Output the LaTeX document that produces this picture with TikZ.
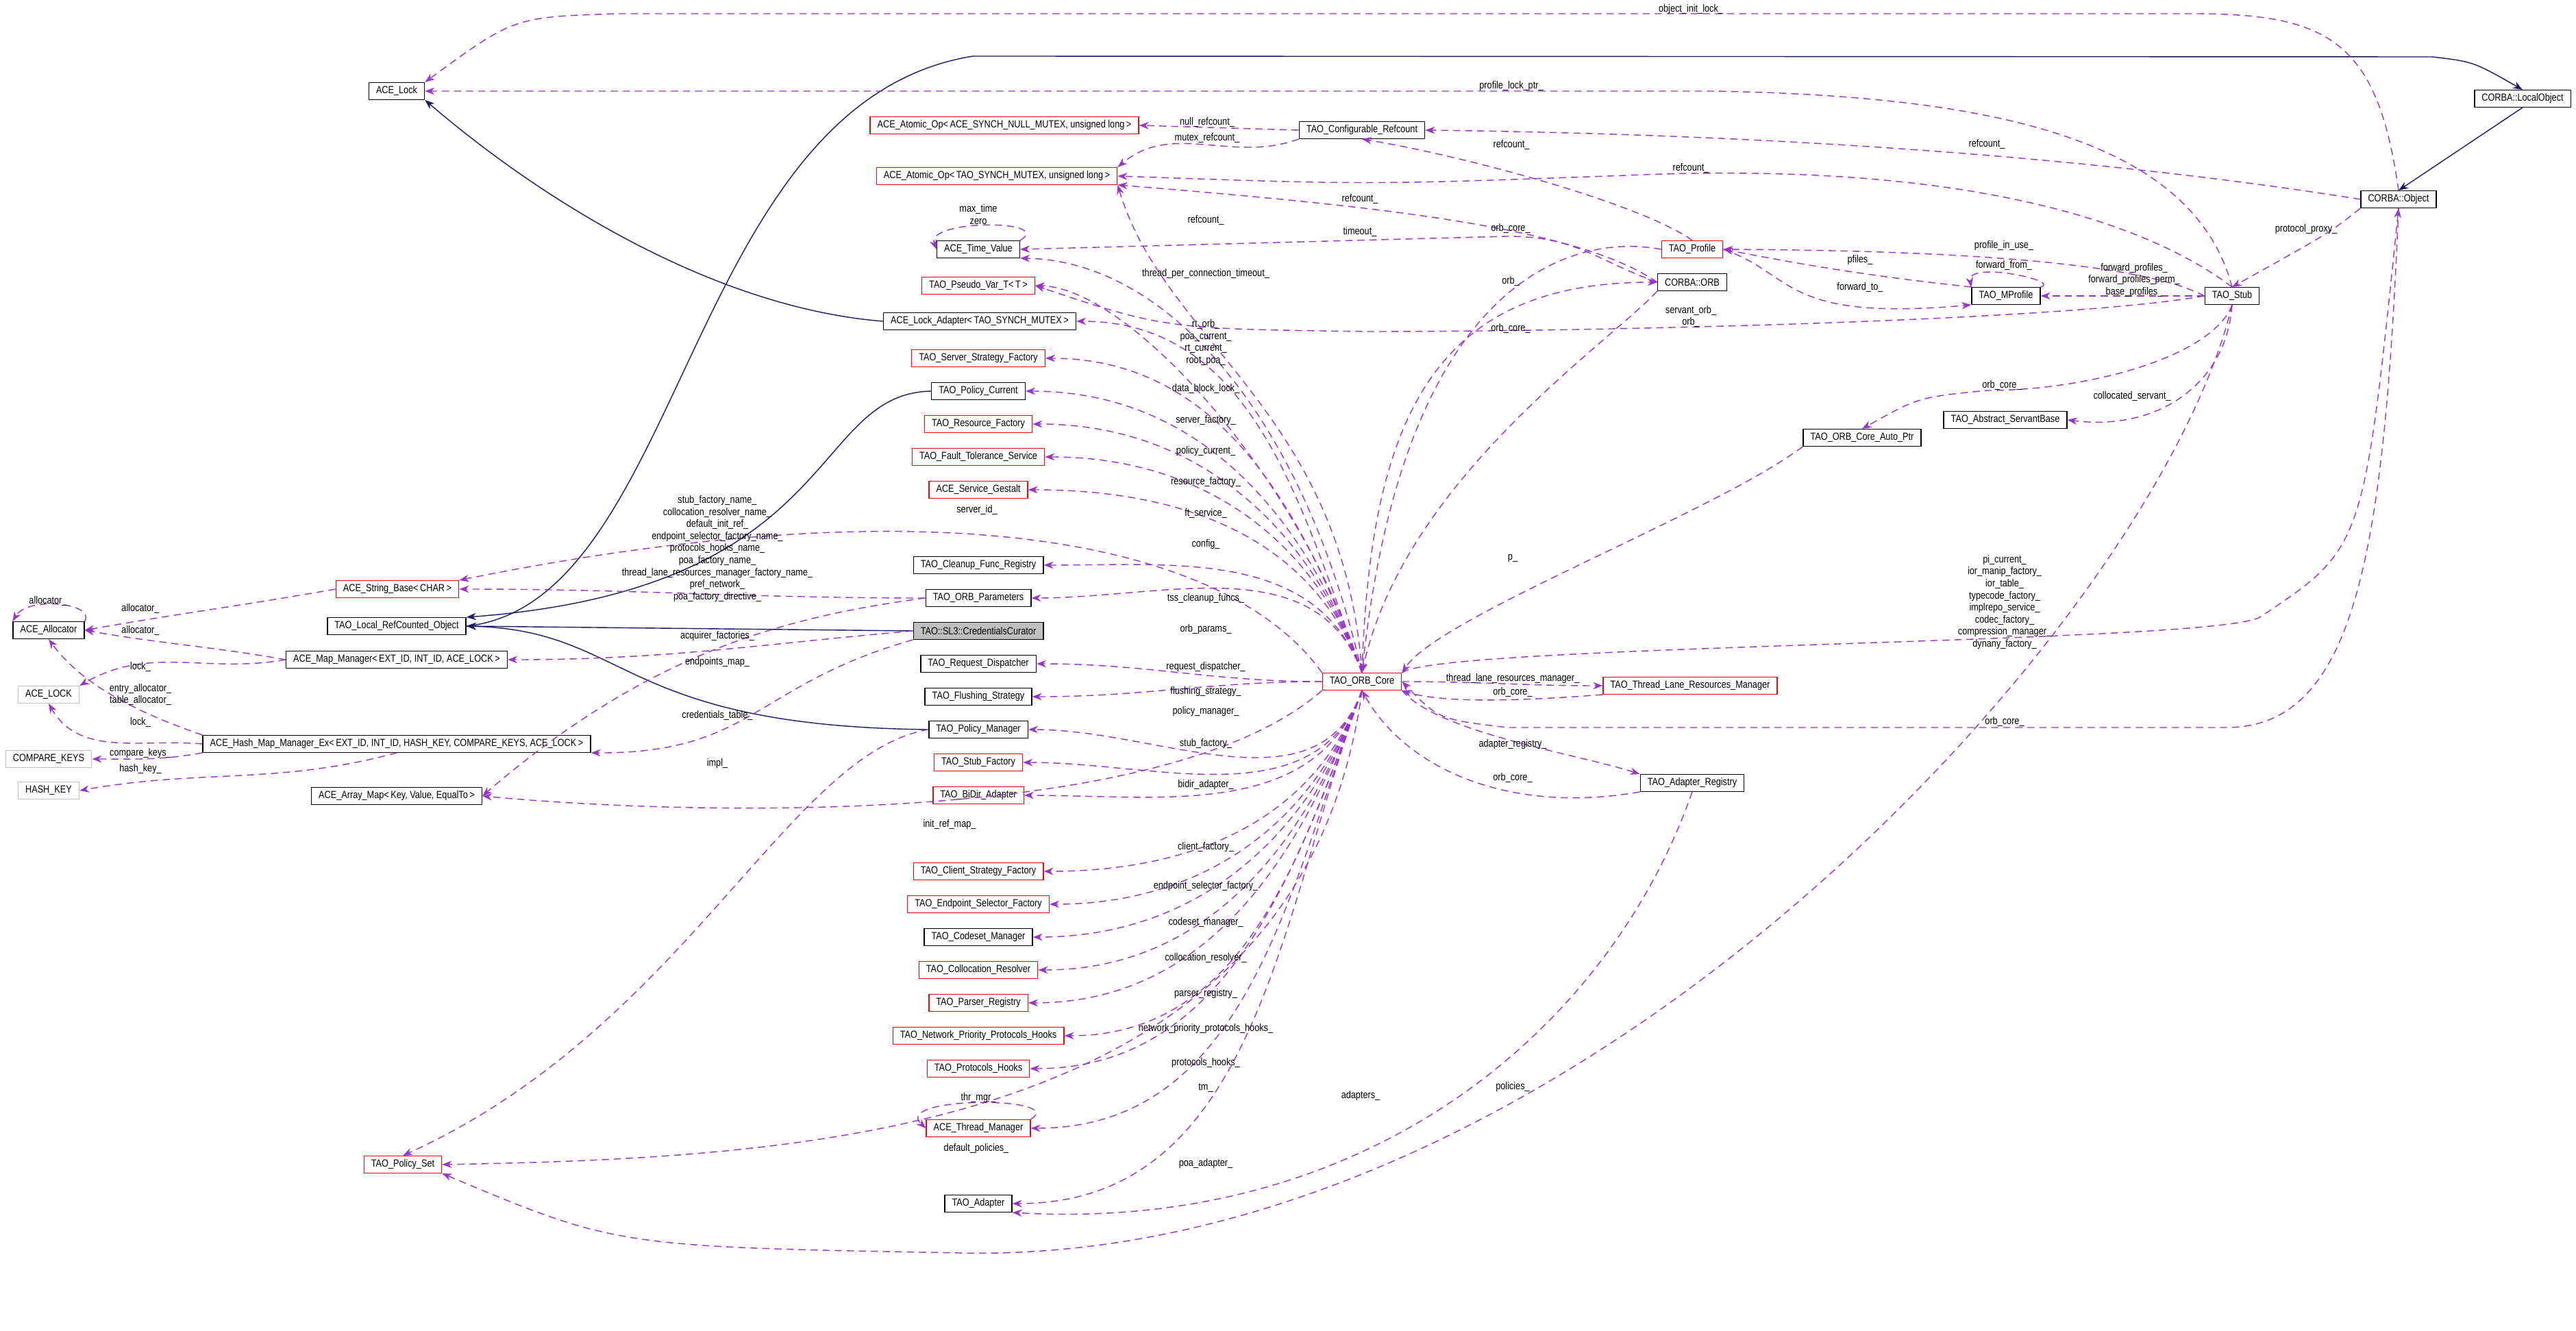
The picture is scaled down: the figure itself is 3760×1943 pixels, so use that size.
\documentclass[tikz,border=0pt]{standalone}
\usepackage{fontspec}
\setmainfont{Liberation Sans}[FakeStretch=0.84]
\usetikzlibrary{arrows.meta}
\definecolor{memcol}{RGB}{154,50,205}
\definecolor{inhcol}{RGB}{25,25,112}
\definecolor{boxgray}{RGB}{191,191,191}
\newcommand{\lt}{\textless\,}
\newcommand{\gt}{\,\textgreater}
\tikzset{
  cls/.style={draw=black, thin, minimum height=7pt, inner xsep=3pt, inner ysep=0pt, font=\fontsize{4.3}{5}\selectfont},
  redcls/.style={cls, draw=red},
  graycls/.style={cls, draw=boxgray},
  curcls/.style={cls, fill=boxgray},
  lbl/.style={font=\fontsize{4.3}{5}\selectfont, inner sep=0pt, align=center},
  mem/.style={memcol, dash pattern=on 3pt off 2pt, thin, -{Stealth[length=4pt,width=3pt]}},
  inh/.style={inhcol, thin, -{Stealth[length=4pt,width=3pt]}},
}
\begin{document}
\begin{tikzpicture}[x=0.01cm, y=-0.01cm]
  \useasboundingbox (0,0) rectangle (3760,1943);

  % Left cluster
  \node[cls] (lock) at (579,133) {ACE\_Lock};
  \node[redcls] (strbase) at (580,860) {ACE\_String\_Base\lt CHAR\gt};
  \node[cls] (localrc) at (579,914) {TAO\_Local\_RefCounted\_Object};
  \node[cls] (alloc) at (71,920) {ACE\_Allocator};
  \node[cls] (mapmgr) at (579,963) {ACE\_Map\_Manager\lt EXT\_ID, INT\_ID, ACE\_LOCK\gt};
  \node[graycls] (acelock) at (71,1014) {ACE\_LOCK};
  \node[cls] (hashmap) at (579,1086) {ACE\_Hash\_Map\_Manager\_Ex\lt EXT\_ID, INT\_ID, HASH\_KEY, COMPARE\_KEYS, ACE\_LOCK\gt};
  \node[graycls] (cmpkeys) at (71,1108) {COMPARE\_KEYS};
  \node[graycls] (hashkey) at (71,1154) {HASH\_KEY};
  \node[cls] (arrmap) at (579,1162) {ACE\_Array\_Map\lt Key, Value, EqualTo\gt};
  \node[redcls] (polset) at (588,1700) {TAO\_Policy\_Set};

  % Middle column
  \node[redcls] (atomnull) at (1466,183) {ACE\_Atomic\_Op\lt ACE\_SYNCH\_NULL\_MUTEX, unsigned long\gt};
  \node[redcls] (atomtao) at (1455,257) {ACE\_Atomic\_Op\lt TAO\_SYNCH\_MUTEX, unsigned long\gt};
  \node[cls] (timeval) at (1428,364) {ACE\_Time\_Value};
  \node[redcls] (pseudo) at (1428,417) {TAO\_Pseudo\_Var\_T\lt T\gt};
  \node[cls] (lockad) at (1430,469) {ACE\_Lock\_Adapter\lt TAO\_SYNCH\_MUTEX\gt};
  \node[redcls] (srvstrat) at (1428,523) {TAO\_Server\_Strategy\_Factory};
  \node[cls] (polcur) at (1428,571) {TAO\_Policy\_Current};
  \node[redcls] (resfac) at (1428,619) {TAO\_Resource\_Factory};
  \node[redcls] (ftserv) at (1428,667) {TAO\_Fault\_Tolerance\_Service};
  \node[redcls] (gestalt) at (1428,715) {ACE\_Service\_Gestalt};
  \node[cls] (cleanup) at (1428,825) {TAO\_Cleanup\_Func\_Registry};
  \node[cls] (orbparams) at (1428,873) {TAO\_ORB\_Parameters};
  \node[curcls] (curator) at (1428,921) {TAO::SL3::CredentialsCurator};
  \node[cls] (reqdisp) at (1428,969) {TAO\_Request\_Dispatcher};
  \node[cls] (flush) at (1428,1017) {TAO\_Flushing\_Strategy};
  \node[cls] (polmgr) at (1428,1065) {TAO\_Policy\_Manager};
  \node[redcls] (stubfac) at (1428,1113) {TAO\_Stub\_Factory};
  \node[redcls] (bidir) at (1428,1161) {TAO\_BiDir\_Adapter};
  \node[redcls] (clistrat) at (1428,1272) {TAO\_Client\_Strategy\_Factory};
  \node[redcls] (endsel) at (1428,1320) {TAO\_Endpoint\_Selector\_Factory};
  \node[cls] (codeset) at (1428,1368) {TAO\_Codeset\_Manager};
  \node[redcls] (colres) at (1428,1416) {TAO\_Collocation\_Resolver};
  \node[redcls] (parser) at (1428,1464) {TAO\_Parser\_Registry};
  \node[redcls] (netprio) at (1428,1512) {TAO\_Network\_Priority\_Protocols\_Hooks};
  \node[redcls] (prothooks) at (1428,1560) {TAO\_Protocols\_Hooks};
  \node[redcls] (thrmgr) at (1428,1647) {ACE\_Thread\_Manager};
  \node[cls] (adapter) at (1428,1757) {TAO\_Adapter};

  % Core and right side
  \node[redcls] (core) at (1988,995) {TAO\_ORB\_Core};
  \node[cls] (cfgrc) at (1988,190) {TAO\_Configurable\_Refcount};
  \node[redcls] (profile) at (2470,364) {TAO\_Profile};
  \node[cls] (orb) at (2470,412) {CORBA::ORB};
  \node[redcls] (tlrm) at (2467,1001) {TAO\_Thread\_Lane\_Resources\_Manager};
  \node[cls] (adreg) at (2470,1143) {TAO\_Adapter\_Registry};
  \node[cls] (mprofile) at (2928,432) {TAO\_MProfile};
  \node[cls] (stub) at (3258,432) {TAO\_Stub};
  \node[cls] (servbase) at (2927,613) {TAO\_Abstract\_ServantBase};
  \node[cls] (autoptr) at (2718,639) {TAO\_ORB\_Core\_Auto\_Ptr};
  \node[cls] (object) at (3501,291) {CORBA::Object};
  \node[cls] (localobj) at (3682,144) {CORBA::LocalObject};

  % Inheritance
  \draw[inh] (lockad.west) .. controls (1050,450) and (800,300) .. (lock.south east);
  \draw[inh] (localrc.east) .. controls (1000,880) and (1000,150) .. (1420,82) -- (3550,83) .. controls (3610,90) .. (localobj.north);
  \draw[inh] (localobj.south) -- (object.north);
  \draw[inh] (polcur.west) .. controls (1180,575) and (1230,860) .. (localrc.north east);
  \draw[inh] (curator.west) -- (localrc.east);
  \draw[inh] (polmgr.west) .. controls (900,1060) and (920,920) .. (localrc.east);

  % Members of the left cluster
  \draw[mem] (strbase.west) to[out=190,in=10] (alloc.east);
  \draw[mem] (mapmgr.west) to[out=170,in=-10] (alloc.east);
  \draw[mem] (alloc.north east) .. controls (140,880) and (40,870) .. (alloc.north west);
  \draw[mem] (mapmgr.west) to[out=190,in=30] (acelock.north east);
  \draw[mem] (hashmap.north west) .. controls (200,1040) and (120,1000) .. (alloc.south);
  \draw[mem] (hashmap.west) to[out=175,in=-60] (acelock.south);
  \draw[mem] (hashmap.south west) to[out=190,in=0] (cmpkeys.east);
  \draw[mem] (hashmap.south) to[out=195,in=10] (hashkey.east);
  \draw[mem] (curator.west) to[out=185,in=0] (mapmgr.east);
  \draw[mem] (curator.south west) .. controls (1100,1000) and (1100,1100) .. (hashmap.south east);
  \draw[mem] (orbparams.west) .. controls (1150,900) and (950,950) .. (arrmap.east);
  \draw[mem] (orbparams.west) to[out=180,in=0] (strbase.east);
  \draw[mem] (polmgr.west) .. controls (1150,1100) and (1000,1500) .. (polset.north);

  % Members around the counters and locks
  \draw[mem] (object.north) .. controls (3470,60) and (3400,20) .. (3200,20) -- (900,20) .. controls (750,25) .. (lock.north east);
  \draw[mem] (stub.north) .. controls (3200,200) and (2900,140) .. (2500,133) -- (lock.east);
  \draw[mem] (object.west) .. controls (3000,220) and (2500,195) .. (cfgrc.east);
  \draw[mem] (stub.north) .. controls (3100,300) and (2800,240) .. (2400,255) .. controls (2000,270) .. (atomtao.east);
  \draw[mem] (profile.north) .. controls (2400,300) and (2150,230) .. (cfgrc.south);
  \draw[mem] (cfgrc.west) -- (atomnull.east);
  \draw[mem] (cfgrc.south west) to[out=200,in=40] (atomtao.north east);
  \draw[mem] (orb.west) .. controls (2300,330) and (2000,300) .. (atomtao.south east);
  \draw[mem] (core.north) .. controls (1960,600) and (1700,500) .. (atomtao.south east);
  \draw[mem] (timeval.north east) .. controls (1540,320) and (1350,320) .. (timeval.west);
  \draw[mem] (orb.west) .. controls (2330,380) and (2300,345) .. (2200,345) -- (timeval.east);
  \draw[mem] (core.north) .. controls (1900,600) and (1700,380) .. (timeval.south east);
  \draw[mem] (profile.west) .. controls (2300,340) and (2050,400) .. (core.north);
  \draw[mem] (core.north) .. controls (2000,600) and (2100,412) .. (orb.west);
  \draw[mem] (orb.south west) .. controls (2350,500) and (2050,700) .. (core.north);
  \draw[mem] (stub.west) .. controls (3000,470) and (2300,484) .. (2000,484) .. controls (1700,480) .. (pseudo.east);
  \draw[mem] (core.north) .. controls (1900,700) and (1650,420) .. (pseudo.east);

  % Members of TAO_ORB_Core towards the left column
  \foreach \t in {lockad,srvstrat,polcur,resfac,ftserv,gestalt,cleanup,orbparams}
    \draw[mem] (core.north) to[out=110,in=0] (\t.east);
  \draw[mem] (core.north west) .. controls (1800,800) and (1400,700) .. (strbase.north east);
  \foreach \t in {reqdisp,flush}
    \draw[mem] (core.west) to[out=180,in=0] (\t.east);
  \foreach \t in {polmgr,stubfac,bidir,clistrat,endsel,codeset,colres,parser,netprio,prothooks,thrmgr,adapter}
    \draw[mem] (core.south) to[out=250,in=0] (\t.east);
  \draw[mem] (core.south west) .. controls (1700,1210) and (1000,1190) .. (arrmap.east);
  \draw[mem] (core.south) .. controls (1900,1650) and (1200,1690) .. (polset.east);
  \draw[mem] (thrmgr.north east) .. controls (1560,1600) and (1300,1600) .. (thrmgr.west);

  % Right side of TAO_ORB_Core
  \draw[mem] (core.east) to[out=0,in=180] (tlrm.west);
  \draw[mem] (tlrm.south west) .. controls (2200,1025) and (2100,1025) .. (core.south east);
  \draw[mem] (core.south east) .. controls (2100,1070) and (2300,1100) .. (adreg.north west);
  \draw[mem] (adreg.south west) .. controls (2200,1190) and (2050,1120) .. (core.south);
  \draw[mem] (adreg.south) .. controls (2350,1500) and (2000,1800) .. (adapter.south east);
  \draw[mem] (autoptr.south west) .. controls (2500,750) and (2100,900) .. (core.north east);
  \draw[mem] (core.north east) .. controls (2100,940) and (3250,940) .. (3300,900) .. controls (3450,800) .. (object.south);
  \draw[mem] (object.south) .. controls (3480,800) and (3440,1062) .. (3250,1062) -- (2200,1062) .. controls (2100,1050) .. (core.east);
  \draw[mem] (stub.south) .. controls (3150,900) and (2300,1850) .. (1400,1829) .. controls (900,1820) .. (polset.south east);

  % Profiles and stub
  \draw[mem] (stub.west) .. controls (3100,370) and (2700,365) .. (profile.east);
  \draw[mem] (mprofile.north west) .. controls (2700,400) and (2600,380) .. (profile.east);
  \draw[mem] (profile.east) .. controls (2620,400) and (2600,470) .. (mprofile.south west);
  \draw[mem] (mprofile.north east) .. controls (3010,410) and (2870,380) .. (mprofile.north west);
  \draw[mem] (stub.west) -- (mprofile.east);
  \draw[mem] (object.south west) .. controls (3400,340) .. (stub.north);
  \draw[mem] (stub.south) .. controls (3230,520) and (3050,570) .. (2900,570) .. controls (2800,580) .. (autoptr.north);
  \draw[mem] (stub.south) .. controls (3250,560) and (3150,630) .. (servbase.east);

  % Labels
  \node[lbl] (l01) at (2468,14) {object\_init\_lock\_};
  \node[lbl] (l02) at (2206,126) {profile\_lock\_ptr\_};
  \node[lbl] (l03) at (2900,211) {refcount\_};
  \node[lbl] (l04) at (2468,246) {refcount\_};
  \node[lbl] (l05) at (2206,212) {refcount\_};
  \node[lbl] (l06) at (1762,179) {null\_refcount\_};
  \node[lbl] (l07) at (1762,202) {mutex\_refcount\_};
  \node[lbl] (l08) at (1985,291) {refcount\_};
  \node[lbl] (l09) at (1760,322) {refcount\_};
  \node[lbl] (l10) at (1428,313) {max\_time\\zero};
  \node[lbl] (l11) at (1985,339) {timeout\_};
  \node[lbl] (l12) at (2205,334) {orb\_core\_};
  \node[lbl] (l13) at (1760,400) {thread\_per\_connection\_timeout\_};
  \node[lbl] (l14) at (2205,411) {orb\_};
  \node[lbl] (l15) at (2468,462) {servant\_orb\_\\orb\_};
  \node[lbl] (l16) at (2205,480) {orb\_core\_};
  \node[lbl] (l17) at (1760,500) {rt\_orb\_\\poa\_current\_\\rt\_current\_\\root\_poa\_};
  \node[lbl] (l18) at (1760,568) {data\_block\_lock\_};
  \node[lbl] (l19) at (1760,614) {server\_factory\_};
  \node[lbl] (l20) at (1760,659) {policy\_current\_};
  \node[lbl] (l21) at (1760,704) {resource\_factory\_};
  \node[lbl] (l22) at (1760,750) {ft\_service\_};
  \node[lbl] (l23) at (1760,795) {config\_};
  \node[lbl] (l24) at (1426,745) {server\_id\_};
  \node[lbl] (l25) at (1760,874) {tss\_cleanup\_funcs\_};
  \node[lbl] (l26) at (1760,919) {orb\_params\_};
  \node[lbl] (l27) at (1760,974) {request\_dispatcher\_};
  \node[lbl] (l28) at (1760,1010) {flushing\_strategy\_};
  \node[lbl] (l29) at (1760,1039) {policy\_manager\_};
  \node[lbl] (l30) at (1760,1086) {stub\_factory\_};
  \node[lbl] (l31) at (1760,1146) {bidir\_adapter\_};
  \node[lbl] (l32) at (1386,1204) {init\_ref\_map\_};
  \node[lbl] (l33) at (1760,1237) {client\_factory\_};
  \node[lbl] (l34) at (1760,1294) {endpoint\_selector\_factory\_};
  \node[lbl] (l35) at (1760,1347) {codeset\_manager\_};
  \node[lbl] (l36) at (1760,1399) {collocation\_resolver\_};
  \node[lbl] (l37) at (1760,1451) {parser\_registry\_};
  \node[lbl] (l38) at (1760,1502) {network\_priority\_protocols\_hooks\_};
  \node[lbl] (l39) at (1760,1552) {protocols\_hooks\_};
  \node[lbl] (l40) at (1760,1588) {tm\_};
  \node[lbl] (l41) at (1428,1603) {thr\_mgr\_};
  \node[lbl] (l42) at (1425,1677) {default\_policies\_};
  \node[lbl] (l43) at (1760,1699) {poa\_adapter\_};
  \node[lbl] (l44) at (1986,1600) {adapters\_};
  \node[lbl] (l45) at (2208,1587) {policies\_};
  \node[lbl] (l46) at (2208,815) {p\_};
  \node[lbl] (l47) at (2208,991) {thread\_lane\_resources\_manager\_};
  \node[lbl] (l48) at (2208,1011) {orb\_core\_};
  \node[lbl] (l49) at (2208,1087) {adapter\_registry\_};
  \node[lbl] (l50) at (2208,1136) {orb\_core\_};
  \node[lbl] (l51) at (2926,879) {pi\_current\_\\ior\_manip\_factory\_\\ior\_table\_\\typecode\_factory\_\\implrepo\_service\_\\codec\_factory\_\\compression\_manager\_\\dynany\_factory\_};
  \node[lbl] (l52) at (2926,1054) {orb\_core\_};
  \node[lbl] (l53) at (2925,359) {profile\_in\_use\_};
  \node[lbl] (l54) at (2715,380) {pfiles\_};
  \node[lbl] (l55) at (2715,420) {forward\_to\_};
  \node[lbl] (l56) at (2925,388) {forward\_from\_};
  \node[lbl] (l57) at (3115,409) {forward\_profiles\_\\forward\_profiles\_perm\_\\base\_profiles\_};
  \node[lbl] (l58) at (3366,335) {protocol\_proxy\_};
  \node[lbl] (l59) at (2922,563) {orb\_core\_};
  \node[lbl] (l60) at (3112,579) {collocated\_servant\_};
  \node[lbl] (l61) at (1047,801) {stub\_factory\_name\_\\collocation\_resolver\_name\_\\default\_init\_ref\_\\endpoint\_selector\_factory\_name\_\\protocols\_hooks\_name\_\\poa\_factory\_name\_\\thread\_lane\_resources\_manager\_factory\_name\_\\pref\_network\_\\poa\_factory\_directive\_};
  \node[lbl] (l62) at (1047,929) {acquirer\_factories\_};
  \node[lbl] (l63) at (1047,967) {endpoints\_map\_};
  \node[lbl] (l64) at (1047,1045) {credentials\_table\_};
  \node[lbl] (l65) at (1047,1115) {impl\_};
  \node[lbl] (l66) at (70,878) {allocator\_};
  \node[lbl] (l67) at (205,889) {allocator\_};
  \node[lbl] (l68) at (205,921) {allocator\_};
  \node[lbl] (l69) at (205,974) {lock\_};
  \node[lbl] (l70) at (205,1014) {entry\_allocator\_\\table\_allocator\_};
  \node[lbl] (l71) at (205,1055) {lock\_};
  \node[lbl] (l72) at (205,1100) {compare\_keys\_};
  \node[lbl] (l73) at (205,1123) {hash\_key\_};
\end{tikzpicture}
\end{document}
